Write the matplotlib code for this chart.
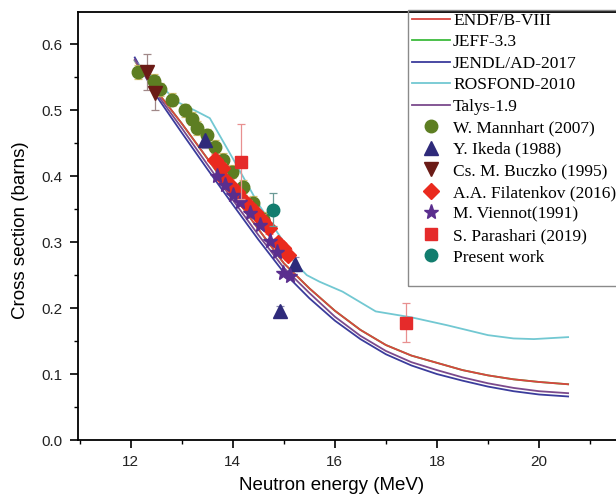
import matplotlib
matplotlib.use('Agg')
import matplotlib.pyplot as plt
from matplotlib.lines import Line2D
from matplotlib.patches import Rectangle
from matplotlib.ticker import MultipleLocator

# ---------------- data ----------------
E_eval = [12.08, 12.5, 13.0, 13.5, 14.0, 14.5, 15.0, 15.5, 16.0, 16.5,
          17.0, 17.5, 18.0, 18.5, 19.0, 19.5, 20.0, 20.57]
endf = [0.575, 0.530, 0.480, 0.427, 0.373, 0.320, 0.268, 0.230, 0.196, 0.167,
        0.144, 0.128, 0.117, 0.106, 0.098, 0.092, 0.088, 0.0845]
jeff = [0.575, 0.530, 0.480, 0.427, 0.373, 0.320, 0.268, 0.230, 0.196, 0.167,
        0.144, 0.128, 0.117, 0.106, 0.098, 0.092, 0.088, 0.0845]
jendl = [0.580, 0.522, 0.466, 0.411, 0.357, 0.304, 0.254, 0.215, 0.181, 0.153,
         0.130, 0.113, 0.100, 0.090, 0.081, 0.074, 0.069, 0.066]
talys = [0.577, 0.526, 0.473, 0.418, 0.364, 0.311, 0.261, 0.223, 0.187, 0.158,
         0.135, 0.118, 0.106, 0.095, 0.086, 0.079, 0.074, 0.071]
E_ros = [12.08, 12.5, 12.9, 13.25, 13.55, 14.0, 14.5, 15.0, 15.2, 15.45,
         15.7, 16.15, 16.8, 17.5, 18.2, 19.0, 19.5, 19.9, 20.57]
rosfond = [0.575, 0.545, 0.513, 0.500, 0.488, 0.427, 0.358, 0.300, 0.270, 0.250,
           0.240, 0.225, 0.195, 0.186, 0.174, 0.159, 0.154, 0.153, 0.156]

mann_E = [12.15, 12.45, 12.57, 12.80, 13.06, 13.20, 13.29, 13.50, 13.65, 13.80,
          13.98, 14.21, 14.40, 14.60]
mann_s = [0.558, 0.545, 0.532, 0.516, 0.500, 0.487, 0.473, 0.462, 0.445, 0.425,
          0.407, 0.384, 0.360, 0.335]
mann_err = [0.010] * 14

ikeda_E = [13.46, 15.22, 14.93]
ikeda_s = [0.455, 0.267, 0.195]
ikeda_err = [0.012, 0.010, 0.008]

buczko_E = [12.31, 12.48]
buczko_s = [0.558, 0.526]
buczko_err = [0.027, 0.026]

filat_E = [13.66, 13.78, 13.81, 13.95, 14.08, 14.21, 14.30, 14.44, 14.57, 14.70,
           14.89, 14.99, 15.09]
filat_s = [0.425, 0.412, 0.397, 0.387, 0.376, 0.364, 0.356, 0.346, 0.334, 0.321,
           0.298, 0.291, 0.281]
filat_err = [0.008] * 13

vien_E = [13.70, 13.85, 14.00, 14.14, 14.34, 14.53, 14.73, 14.87, 14.99, 15.12]
vien_s = [0.400, 0.386, 0.372, 0.361, 0.344, 0.326, 0.301, 0.285, 0.253, 0.248]

para_E = [14.17, 17.39]
para_s = [0.422, 0.178]
para_err = [0.057, 0.030]

pres_E = [14.79]
pres_s = [0.349]
pres_err = [0.025]

x_ticks = [12, 14, 16, 18, 20]
y_ticks = [0.0, 0.1, 0.2, 0.3, 0.4, 0.5, 0.6]

legend_labels = ['ENDF/B-VIII', 'JEFF-3.3', 'JENDL/AD-2017', 'ROSFOND-2010', 'Talys-1.9',
                 'W. Mannhart (2007)', 'Y. Ikeda (1988)', 'Cs. M. Buczko (1995)',
                 'A.A. Filatenkov (2016)', 'M. Viennot(1991)', 'S. Parashari (2019)',
                 'Present work']

# ---------------- styles ----------------
c_endf = '#d8453f'
c_jeff = '#3dbb3d'
c_jendl = '#3b3c9c'
c_ros = '#72c8d2'
c_talys = '#7b4a8c'
c_mann = '#5d7e22'
c_ikeda = '#2e2a7a'
c_buczko = '#6b1b16'
c_filat = '#ea2a1e'
c_vien = '#5a2e8e'
c_para = '#e52b2b'
c_pres = '#127d6e'

W, H = 616, 495
fig = plt.figure(figsize=(W / 100, H / 100), dpi=100)
ax_left, ax_bottom, ax_top, ax_right = 78, 440, 12, 616
ax = fig.add_axes([ax_left / W, (H - ax_bottom) / H,
                   (ax_right - ax_left) / W, (ax_bottom - ax_top) / H])

lw = 1.3
ax.plot(E_eval, jeff, color=c_jeff, lw=lw, zorder=2)
ax.plot(E_eval, endf, color=c_endf, lw=lw, zorder=2)
ax.plot(E_eval, jendl, color=c_jendl, lw=lw, zorder=2)
ax.plot(E_ros, rosfond, color=c_ros, lw=lw, zorder=2)
ax.plot(E_eval, talys, color=c_talys, lw=lw, zorder=2)

def eb(x, y, err, color, ecolor, marker, ms, z):
    ax.errorbar(x, y, yerr=err, fmt=marker, color=color, mec=color, ms=ms,
                ecolor=ecolor, elinewidth=0.9, capsize=3, capthick=0.9, zorder=z)

eb(mann_E, mann_s, mann_err, c_mann, '#d4c070', 'o', 9, 3)
eb(ikeda_E, ikeda_s, ikeda_err, c_ikeda, '#8a88b0', '^', 10, 3)
eb(buczko_E, buczko_s, buczko_err, c_buczko, '#a08888', 'v', 10, 3)
eb(filat_E, filat_s, filat_err, c_filat, '#f08080', 'D', 8, 4)
ax.plot(vien_E, vien_s, '*', color=c_vien, ms=11, zorder=5, lw=0)
eb(para_E, para_s, para_err, c_para, '#e89090', 's', 8, 5)
eb(pres_E, pres_s, pres_err, c_pres, '#6a9a96', 'o', 9, 5)

ax.set_xlim(12 + (ax_left - 130.7) / 51.04, 12 + (ax_right - 130.7) / 51.04)
ax.set_ylim(0, (ax_bottom - ax_top) / 659.5)
ax.set_xticks(x_ticks)
ax.set_yticks(y_ticks)
ax.set_yticklabels([f'{v:.1f}' for v in y_ticks])
ax.xaxis.set_minor_locator(MultipleLocator(1))
ax.yaxis.set_minor_locator(MultipleLocator(0.05))
ax.tick_params(which='major', direction='out', length=6, width=1.2,
               labelsize=11, pad=5, top=False, right=False)
ax.tick_params(which='minor', direction='out', length=3, width=1.0,
               top=False, right=False)
for lab in ax.get_xticklabels() + ax.get_yticklabels():
    lab.set_fontfamily('Liberation Sans')
    lab.set_color('#222222')
ax.spines['right'].set_visible(False)
for s in ['left', 'bottom', 'top']:
    ax.spines[s].set_linewidth(1.3)
ax.set_xlabel('Neutron energy (MeV)', fontsize=13.5, family='Liberation Sans')
ax.set_ylabel('Cross section (barns)', fontsize=13.5, family='Liberation Sans')
ax.xaxis.set_label_coords((332 - ax_left) / (ax_right - ax_left), -(486 - ax_bottom) / (ax_bottom - ax_top))
ax.xaxis.label.set_va('center')
ax.yaxis.set_label_coords(-(ax_left - 21) / (ax_right - ax_left), (ax_bottom - 230) / (ax_bottom - ax_top))
ax.yaxis.label.set_va('center')

# legend
handles = [
    Line2D([], [], color=c_endf, lw=lw),
    Line2D([], [], color=c_jeff, lw=lw),
    Line2D([], [], color=c_jendl, lw=lw),
    Line2D([], [], color=c_ros, lw=lw),
    Line2D([], [], color=c_talys, lw=lw),
    Line2D([], [], color=c_mann, marker='o', ms=9, lw=0),
    Line2D([], [], color=c_ikeda, marker='^', ms=10, lw=0),
    Line2D([], [], color=c_buczko, marker='v', ms=10, lw=0),
    Line2D([], [], color=c_filat, marker='D', ms=8, lw=0),
    Line2D([], [], color=c_vien, marker='*', ms=11, lw=0),
    Line2D([], [], color=c_para, marker='s', ms=8, lw=0),
    Line2D([], [], color=c_pres, marker='o', ms=9, lw=0),
]
fig.patches.append(Rectangle((408 / W, (H - 286) / H), 0.5, (286 - 10) / H,
                             transform=fig.transFigure, fill=False,
                             edgecolor='#8a8a8a', lw=1.0, zorder=10))
leg = fig.legend(handles, legend_labels, loc='upper left',
                 bbox_to_anchor=(408.5 / W, (H - 9) / H), frameon=False,
                 prop={'family': 'Liberation Serif', 'size': 12.5},
                 handlelength=2.2, handletextpad=0.17, labelspacing=0.31,
                 borderpad=0.2, borderaxespad=0)

fig.savefig('out.png', dpi=100)
